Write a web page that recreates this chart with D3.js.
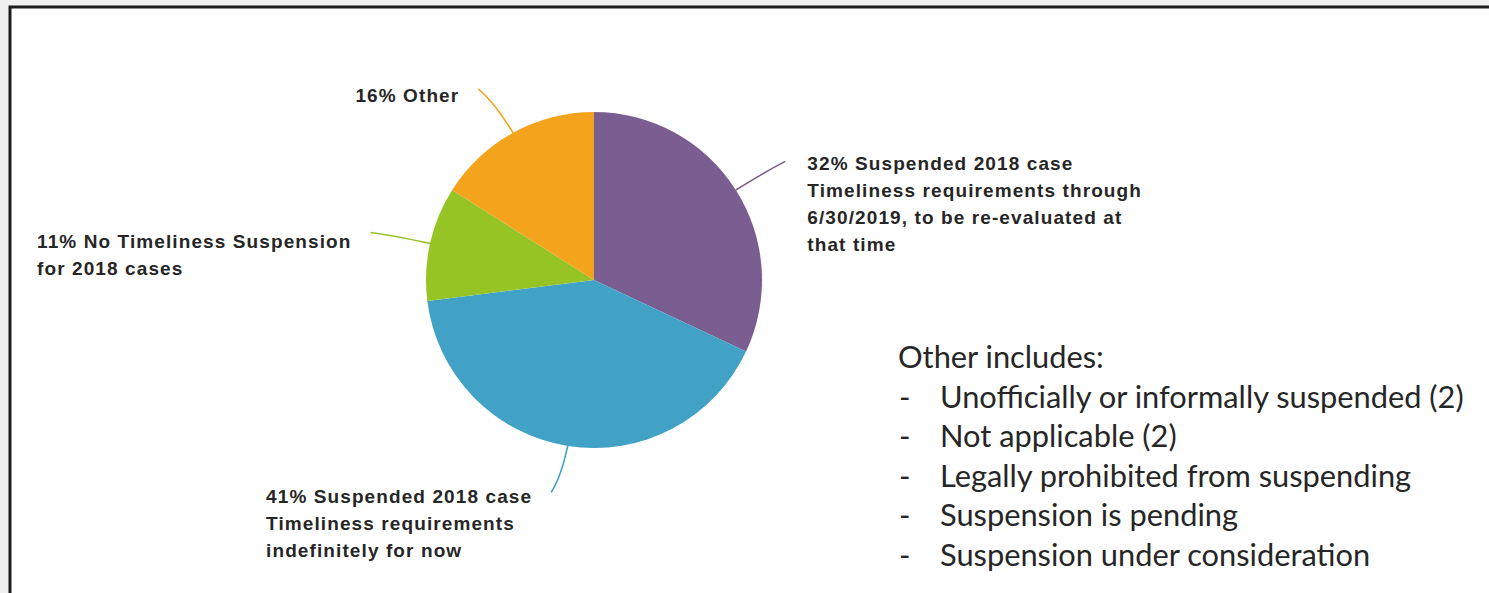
<!DOCTYPE html>
<html>
<head>
<meta charset="utf-8">
<script src="https://cdn.jsdelivr.net/npm/d3@7"></script>
<style>
  html, body { margin: 0; padding: 0; background: #efefef; overflow: hidden; }
  svg { display: block; }
</style>
</head>
<body>
<div id="chart"></div>
<script>
// slice order is clockwise from 12 o'clock
var sliceNames = ['Suspended through 6/30/2019', 'Suspended indefinitely', 'No Timeliness Suspension', 'Other'];
var sliceValues = [32, 41, 11, 16];
var sliceColors = ['#7b5e91', '#41a2c6', '#97c425', '#f3a41c'];
var sliceLabels = [
    ['32% Suspended 2018 case', 'Timeliness requirements through', '6/30/2019, to be re-evaluated at', 'that time'],
    ['41% Suspended 2018 case', 'Timeliness requirements', 'indefinitely for now'],
    ['11% No Timeliness Suspension', 'for 2018 cases'],
    ['16% Other']
];
var otherTitle = 'Other includes:';
var otherItems = [
    'Unofficially or informally suspended (2)',
    'Not applicable (2)',
    'Legally prohibited from suspending',
    'Suspension is pending',
    'Suspension under consideration'
];

// leader line layout: length as a multiple of the radius, bend in degrees, label side
var leaderLayout = [
    { len: 1.34, bend: 0.6, side: 'right', dy: 9 },
    { len: 1.29, bend: 2.4, side: 'left', dy: 11 },
    { len: 1.36, bend: -0.6, side: 'left', dy: 15 },
    { len: 1.33, bend: -2.4, side: 'left', dy: 13 }
];

var width = 1489,
    height = 593,
    cx = 594,
    cy = 280,
    radius = 168;

var svg = d3.select('#chart').append('svg')
    .attr('width', width)
    .attr('height', height);

/* slide frame, runs off the right and bottom edges */
svg.append('rect')
    .attr('x', 10)
    .attr('y', 7)
    .attr('width', width + 200)
    .attr('height', height + 200)
    .attr('fill', '#ffffff')
    .attr('stroke', '#1c1c1c')
    .attr('stroke-width', 3);

var pie = d3.pie().sort(null).value(function(d) { return d; });
var arcs = pie(sliceValues);

var arc = d3.arc().innerRadius(0).outerRadius(radius);

var g = svg.append('g').attr('transform', 'translate(' + cx + ',' + cy + ')');

g.selectAll('path.slice')
    .data(arcs)
    .enter()
    .append('path')
    .attr('class', 'slice')
    .attr('d', arc)
    .attr('fill', function(d, i) { return sliceColors[i]; });

function polar(angle, r) {
    return [r * Math.sin(angle), -r * Math.cos(angle)];
}

var toRad = Math.PI / 180;

arcs.forEach(function(d, i) {
    var lay = leaderLayout[i],
        mid = (d.startAngle + d.endAngle) / 2,
        p0 = polar(mid, radius),
        p1 = polar(mid + lay.bend * 0.2 * toRad, radius * (1 + (lay.len - 1) * 0.65)),
        p2 = polar(mid + lay.bend * toRad, radius * lay.len);

    var path = d3.path();
    path.moveTo(p0[0], p0[1]);
    path.quadraticCurveTo(p1[0], p1[1], p2[0], p2[1]);

    g.append('path')
        .attr('d', path.toString())
        .attr('fill', 'none')
        .attr('stroke', sliceColors[i])
        .attr('stroke-width', 1.6);

    var right = lay.side === 'right';
    var label = g.append('text')
        .attr('y', p2[1] + lay.dy)
        .attr('font-family', '"Liberation Sans", Arial, sans-serif')
        .attr('font-weight', 'bold')
        .attr('font-size', '19px')
        .attr('letter-spacing', '1.1px')
        .attr('fill', '#262626');

    var spans = sliceLabels[i].map(function(line, j) {
        return label.append('tspan')
            .attr('dy', j === 0 ? 0 : 27)
            .text(line);
    });

    // block is left aligned; on the left side its first line ends near the leader
    var x0 = right ? p2[0] + 22 : p2[0] - 19 - spans[0].node().getComputedTextLength();
    spans.forEach(function(s) { s.attr('x', x0); });
});

/* note block on the right */
var note = svg.append('g')
    .attr('font-family', 'Lato, "Open Sans", sans-serif')
    .attr('font-size', '30.8px')
    .attr('fill', '#262626');

note.append('text')
    .attr('x', 898)
    .attr('y', 368)
    .text(otherTitle);

var rows = note.selectAll('g.row')
    .data(otherItems)
    .enter()
    .append('g')
    .attr('class', 'row')
    .attr('transform', function(d, i) { return 'translate(0,' + (368 + 39.6 * (i + 1)) + ')'; });

rows.append('text')
    .attr('x', 899)
    .text('-');

rows.append('text')
    .attr('x', 940)
    .text(function(d) { return d; });
</script>
</body>
</html>
